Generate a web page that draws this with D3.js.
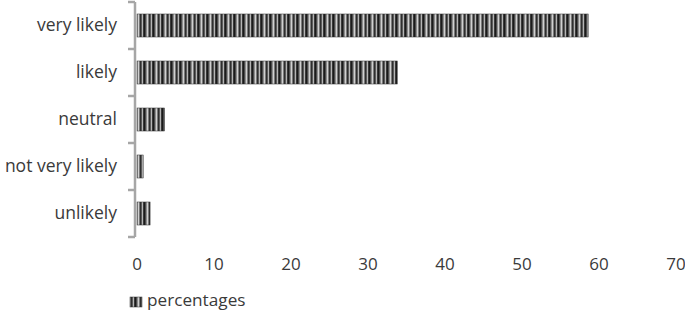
<!DOCTYPE html>
<html>
<head>
<meta charset="utf-8">
<script src="https://cdn.jsdelivr.net/npm/d3@7"></script>
<style>
  body { margin: 0; background: #fff; }
  svg text { font-family: "Open Sans", "Noto Sans", sans-serif; fill: #3a3a3a; }
</style>
</head>
<body>
<div id="chart"></div>
<script>
// values
const categories = ["very likely", "likely", "neutral", "not very likely", "unlikely"];
const percentages = [58.6, 33.8, 3.6, 0.8, 1.7];
const xTicks = [0, 10, 20, 30, 40, 50, 60, 70];
const seriesName = "percentages";

const W = 685, H = 310;
const svg = d3.select("#chart").append("svg").attr("width", W).attr("height", H);

// striped fill, like the old office bar pattern
const stripes = ["#1a1a1a", "#4a4a4a", "#8c8c8c", "#d0d0d0", "#7a7a7a", "#2e2e2e", "#5c5c5c", "#b5b5b5", "#3a3a3a"];
const pat = svg.append("defs").append("pattern")
    .attr("id", "stripe").attr("patternUnits", "userSpaceOnUse")
    .attr("width", stripes.length).attr("height", 10);
stripes.forEach((c, i) => pat.append("rect").attr("x", i).attr("y", 0)
    .attr("width", 1).attr("height", 10).attr("fill", c));

const x = d3.scaleLinear().domain([0, 70]).range([137, 676]);
const y = d3.scaleBand().domain(categories).range([2, 237]).paddingInner(0.51).paddingOuter(0.255);

// bars
svg.selectAll("rect.bar").data(percentages).join("rect").attr("class", "bar")
    .attr("x", x(0))
    .attr("y", (_, i) => y(categories[i]))
    .attr("width", d => x(d) - x(0))
    .attr("height", y.bandwidth())
    .attr("fill", "url(#stripe)")
    .attr("stroke", "#333").attr("stroke-width", 0.5);

// category axis: grey line with ticks between bands
const axisX = 135;
svg.append("line").attr("x1", axisX).attr("x2", axisX).attr("y1", 2).attr("y2", 237)
    .attr("stroke", "#a6a6a6").attr("stroke-width", 2.5);
const step = y.step();
d3.range(categories.length + 1).forEach(i => {
  const ty = 2 + i * step;
  svg.append("line").attr("x1", axisX - 7).attr("x2", axisX).attr("y1", ty).attr("y2", ty)
      .attr("stroke", "#a6a6a6").attr("stroke-width", 2.5);
});

// category labels
svg.selectAll("text.cat").data(categories).join("text").attr("class", "cat")
    .attr("x", 117).attr("y", d => y(d) + y.bandwidth() / 2 + 5.5)
    .attr("text-anchor", "end").attr("font-size", 17.5)
    .text(d => d);

// value labels
svg.selectAll("text.tick").data(xTicks).join("text").attr("class", "tick")
    .attr("x", d => x(d)).attr("y", 270)
    .attr("text-anchor", "middle").attr("font-size", 17)
    .text(d => d);

// legend
svg.append("rect").attr("x", 130).attr("y", 297).attr("width", 12).attr("height", 10)
    .attr("fill", "url(#stripe)").attr("stroke", "#333").attr("stroke-width", 0.5);
svg.append("text").attr("x", 147).attr("y", 306).attr("font-size", 17.2).text(seriesName);
</script>
</body>
</html>
